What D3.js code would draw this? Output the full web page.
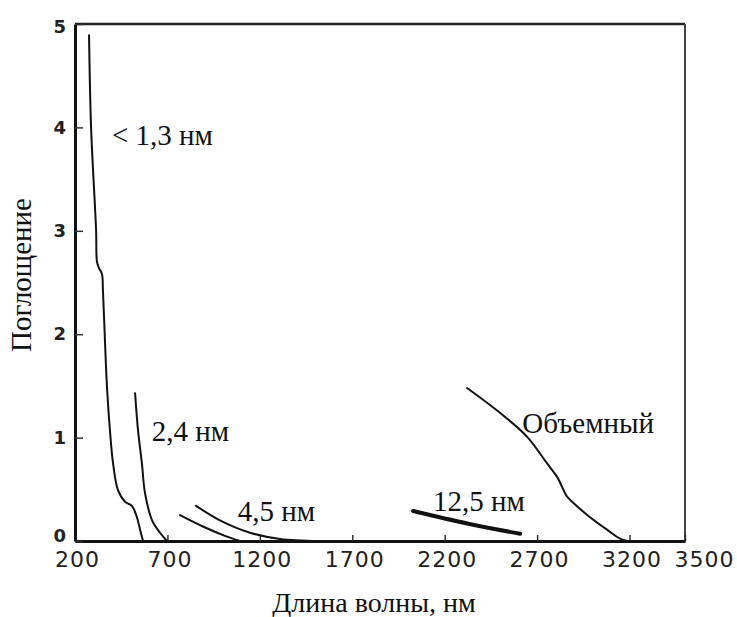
<!DOCTYPE html>
<html>
<head>
<meta charset="utf-8">
<script src="https://cdn.jsdelivr.net/npm/d3@7"></script>
<style>
  html, body { margin: 0; padding: 0; background: #fff; }
  svg { display: block; }
</style>
</head>
<body>
<svg id="chart" width="737" height="617"></svg>
<script>
// Absorption spectra of particles of different size (wavelength in nm, absorbance)
const xTicks = [200, 700, 1200, 1700, 2200, 2700, 3200, 3500];
const yTicks = [0, 1, 2, 3, 4, 5];

const wl13  = [276, 287, 314, 319, 330, 346, 351, 362, 373, 389, 406, 433, 471, 508, 535, 552, 568];
const abs13 = [4.89, 4.0, 3.01, 2.70, 2.64, 2.58, 2.43, 1.94, 1.49, 1.07, 0.75, 0.49, 0.38, 0.34, 0.23, 0.11, 0];

const wl24  = [525, 541, 562, 579, 617, 660, 698];
const abs24 = [1.43, 1.07, 0.75, 0.46, 0.20, 0.08, 0.0];

const wl45a  = [768, 892, 1011, 1093];
const abs45a = [0.25, 0.14, 0.05, 0.0];

const wl45b  = [855, 984, 1147, 1309, 1525];
const abs45b = [0.34, 0.20, 0.08, 0.02, 0.0];

const wl125  = [2029, 2321, 2608];
const abs125 = [0.29, 0.17, 0.07];

const wlBulk  = [2321, 2499, 2645, 2754, 2808, 2862, 2895, 2986, 3078, 3165, 3300, 3500];
const absBulk = [1.48, 1.24, 1.01, 0.75, 0.62, 0.43, 0.37, 0.23, 0.11, 0.01, 0.0, 0.0];

const curveLabels = ["< 1,3 нм", "2,4 нм", "4,5 нм", "12,5 нм", "Объемный"];

const svg = d3.select("#chart");
const m = { left: 75, top: 24, right: 685, bottom: 541 };

const x = d3.scaleLinear().domain([200, 3500]).range([m.left, m.right]);
const y = d3.scaleLinear().domain([0, 5]).range([m.bottom, m.top]);

const serif = "'Liberation Serif', 'Times New Roman', serif";
const sans = "'DejaVu Sans', sans-serif";

// plot frame: top and right thin, axes thicker
svg.append("line").attr("x1", m.left).attr("x2", m.right).attr("y1", m.top).attr("y2", m.top)
  .attr("stroke", "#222").attr("stroke-width", 2.5);
svg.append("line").attr("x1", m.right).attr("x2", m.right).attr("y1", m.top).attr("y2", m.bottom)
  .attr("stroke", "#444").attr("stroke-width", 2);

// x axis
const gx = svg.append("g").attr("transform", `translate(0,${m.bottom})`)
  .call(d3.axisBottom(x).tickValues(xTicks).tickFormat(d3.format("d"))
    .tickSize(-6).tickSizeOuter(0).tickPadding(10));
gx.select(".domain").attr("stroke", "#111").attr("stroke-width", 3);
gx.selectAll(".tick line").attr("stroke", "#333").attr("stroke-width", 1.5);
gx.selectAll(".tick text").attr("font-family", sans).attr("font-size", 22)
  .attr("letter-spacing", 1).attr("fill", "#222")
  .attr("dx", d => d === 3500 ? 19 : 2);

// y axis
const gy = svg.append("g").attr("transform", `translate(${m.left},0)`)
  .call(d3.axisLeft(y).tickValues(yTicks).tickFormat(d3.format("d"))
    .tickSize(-8).tickSizeOuter(0).tickPadding(9));
gy.select(".domain").attr("stroke", "#111").attr("stroke-width", 3);
gy.selectAll(".tick line").attr("stroke", "#333").attr("stroke-width", 1.5);
gy.selectAll(".tick text").attr("font-family", sans).attr("font-size", 18)
  .attr("font-weight", "bold").attr("fill", "#222")
  .attr("dy", d => d === 0 ? "0.05em" : d === 5 ? "0.45em" : "0.32em");

// spectra
const line = d3.line().x(d => x(d[0])).y(d => y(d[1])).curve(d3.curveCatmullRom.alpha(0.5));
const series = [
  { wl: wl13, ab: abs13, w: 2 },
  { wl: wl24, ab: abs24, w: 2 },
  { wl: wl45a, ab: abs45a, w: 2 },
  { wl: wl45b, ab: abs45b, w: 2 },
  { wl: wl125, ab: abs125, w: 4 },
  { wl: wlBulk, ab: absBulk, w: 2 }
];
svg.append("g").selectAll("path").data(series).join("path")
  .attr("d", s => line(s.wl.map((v, i) => [v, s.ab[i]])))
  .attr("fill", "none").attr("stroke", "#111")
  .attr("stroke-width", s => s.w).attr("stroke-linecap", "round");

// curve labels, anchored in data coordinates
const labelPos = [[400, 3.83], [615, 0.97], [1080, 0.19], [2137, 0.29], [2620, 1.04]];
svg.append("g").selectAll("text").data(curveLabels).join("text")
  .attr("x", (d, i) => x(labelPos[i][0]))
  .attr("y", (d, i) => y(labelPos[i][1]))
  .attr("font-family", serif).attr("font-size", 29).attr("fill", "#111")
  .text(d => d);

// axis titles
svg.append("text").attr("x", 374).attr("y", 612).attr("text-anchor", "middle")
  .attr("font-family", serif).attr("font-size", 28).attr("fill", "#111")
  .text("Длина волны, нм");
svg.append("text").attr("transform", "translate(31,275) rotate(-90)").attr("text-anchor", "middle")
  .attr("font-family", serif).attr("font-size", 29).attr("fill", "#111")
  .text("Поглощение");
</script>
</body>
</html>
